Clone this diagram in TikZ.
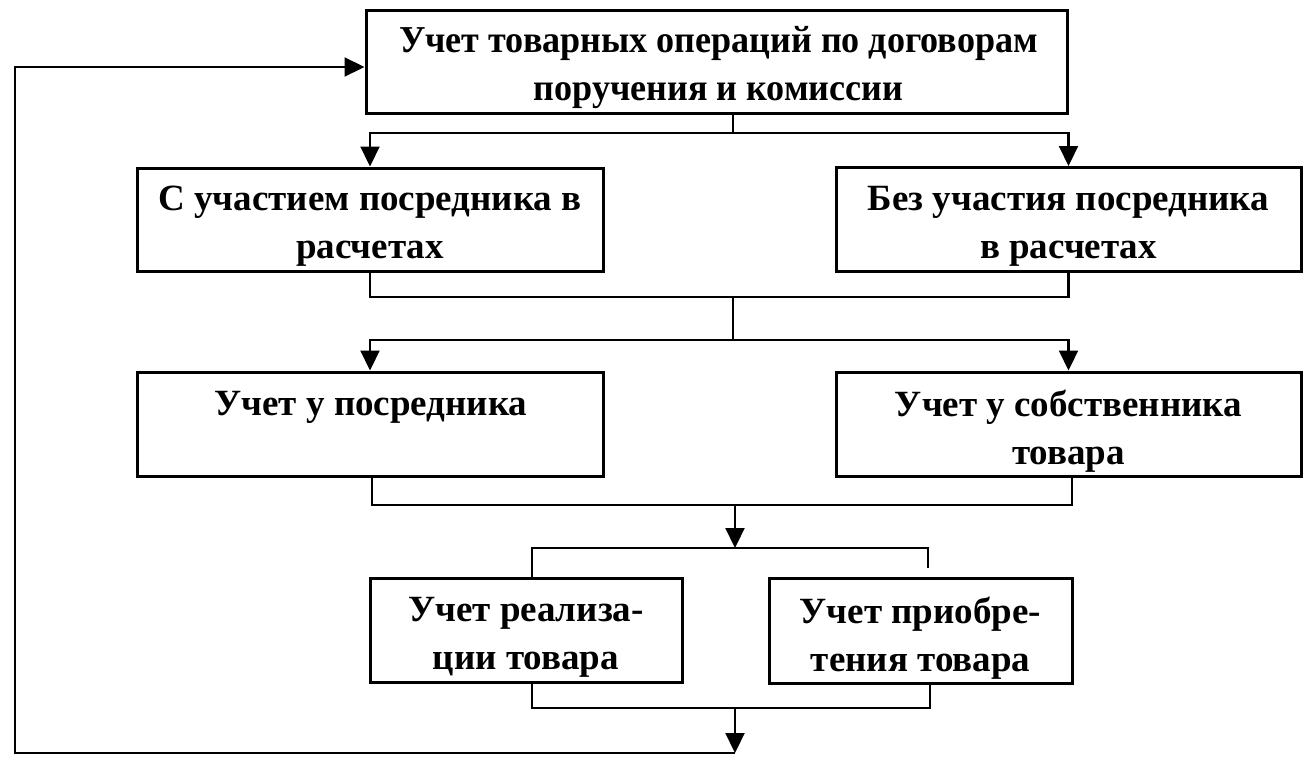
\documentclass[tikz,border=0pt]{standalone}
\usepackage{fontspec}
\setmainfont{Liberation Serif}
\newfontfamily\condbold[FakeStretch=0.95]{Liberation Serif Bold}
\usetikzlibrary{arrows.meta,calc}
\begin{document}
\begin{tikzpicture}[x=1pt,y=-1pt,
  box/.style={draw,line width=3pt,inner sep=0pt},
  txt/.style={align=center,inner sep=0pt,font=\bfseries\fontsize{37}{48}\selectfont},
  conn/.style={line width=2.2pt},
  arr/.style={conn,-{Triangle[width=19pt,length=20pt]}}]
\useasboundingbox (0,0) rectangle (1312,768);
\node[box,minimum width=701pt,minimum height=102pt] (top) at (716.5,62) {};
\node[box,minimum width=466pt,minimum height=103pt] (b2l) at (370,219.5) {};
\node[box,minimum width=465pt,minimum height=104pt] (b2r) at (1068.5,219.5) {};
\node[box,minimum width=466pt,minimum height=104pt] (b3l) at (370,424) {};
\node[box,minimum width=465pt,minimum height=104pt] (b3r) at (1068.5,424) {};
\node[box,minimum width=312pt,minimum height=104pt] (b4l) at (526,630) {};
\node[box,minimum width=303pt,minimum height=105pt] (b4r) at (920.5,630.5) {};
% texts
\node[txt,font=\condbold\fontsize{38}{48}\selectfont] (topt) at ($(top)+(2,6)$)
  {Учет товарных операций по договорам\\поручения и комиссии};
\node[txt] (b2lt) at ($(b2l)+(0,7)$) {С участием посредника в\\расчетах};
\node[txt] (b2rt) at ($(b2r)+(0,7)$) {Без участия посредника\\в расчетах};
\node[txt] (b3lt) at ($(b3l)+(1,-17)$) {Учет у посредника};
\node[txt] (b3rt) at ($(b3r)+(0,7.5)$) {Учет у собственника\\товара};
\node[txt] (b4lt) at ($(b4l)+(0,7.5)$) {Учет реализа-\\ции товара};
\node[txt] (b4rt) at ($(b4r)+(0,7.5)$) {Учет приобре-\\тения товара};
% junctions
\coordinate (j1) at (733,133);
\coordinate (j2) at (733,297);
\coordinate (j3) at (733,340);
\coordinate (j4) at (735,505);
\coordinate (j5) at (735,548);
\coordinate (k5) at (928,568);
\coordinate (j6) at (735,708);
\coordinate (j7) at (735,753);
\coordinate (lp) at (15,753);
\coordinate (lq) at (15,67);
% top -> level 2
\draw[conn] (top.south -| j1) -- (j1);
\draw[arr] (j1) -| (b2l.north);
\draw[arr] (j1) -| (b2r.north);
% level 2 -> level 3
\draw[conn] (b2l.south) |- (j2) -| (b2r.south);
\draw[conn] (j2) -- (j3);
\draw[arr] (j3) -| (b3l.north);
\draw[arr] (j3) -| (b3r.north);
% level 3 -> level 4
\draw[conn] ($(b3l.south)+(2,0)$) |- (j4) -| ($(b3r.south)+(3.5,0)$);
\draw[arr] (j4) -- (j5);
\draw[conn] ($(b4l.north)+(6,0)$) |- (j5) -| (k5);
% level 4 -> loop back
\draw[conn] ($(b4l.south)+(6,0)$) |- (j6) -| ($(b4r.south)+(9.5,0)$);
\draw[arr] (j6) -- (j7);
\draw[arr] (j7) -- (lp) -- (lq) -- (lq -| top.west);
\end{tikzpicture}
\end{document}
